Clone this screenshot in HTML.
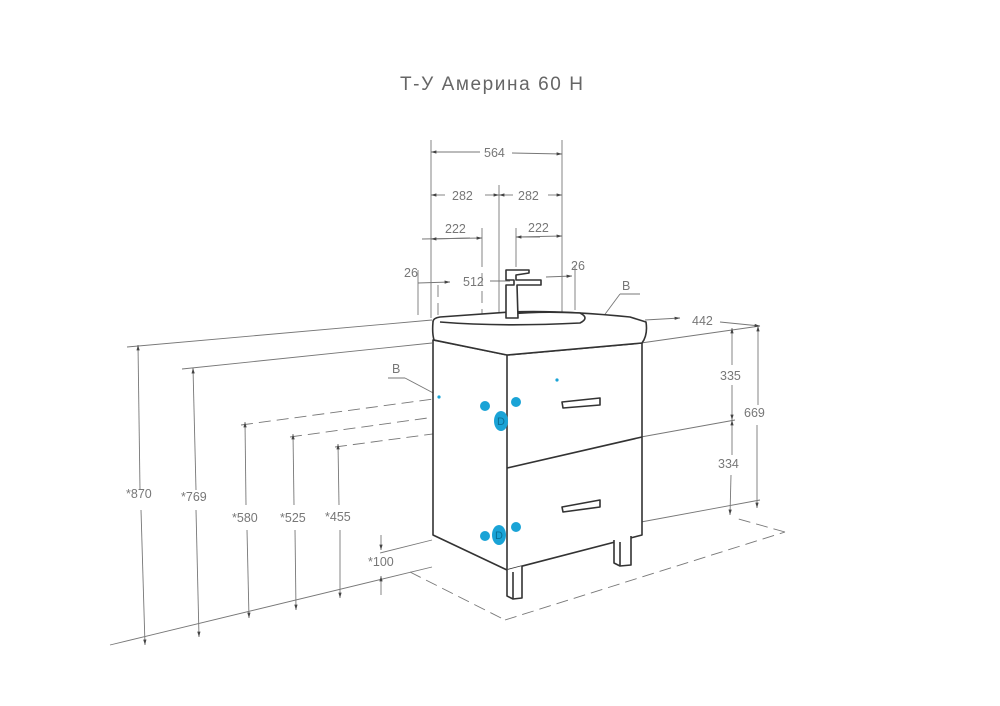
<!DOCTYPE html>
<html><head><meta charset="utf-8"><style>
html,body{margin:0;padding:0;background:#fff}
svg{display:block}
text{font-family:"Liberation Sans",sans-serif;fill:#777;font-size:12.5px}
</style></head><body>
<svg width="1000" height="706" viewBox="0 0 1000 706" xmlns="http://www.w3.org/2000/svg">
<defs>
<marker id="a" viewBox="0 0 10 10" refX="10" refY="5" markerWidth="9" markerHeight="6" orient="auto-start-reverse"><path d="M0,2 L10,5 L0,8 z" fill="#444"/></marker>
</defs>
<text x="400" y="90" style="font-size:19px;fill:#666" textLength="183">Т-У Америна 60 Н</text>

<g stroke="#777" stroke-width="0.9" fill="none">
<line x1="431" y1="140" x2="431" y2="318"/>
<line x1="562" y1="140" x2="562" y2="318"/>
<line x1="499" y1="185" x2="499" y2="318"/>
<line x1="482" y1="228" x2="482" y2="255"/>
<line x1="516" y1="228" x2="516" y2="255"/>
<line x1="418" y1="270" x2="418" y2="315"/>
<line x1="575" y1="265" x2="575" y2="310"/>
<line x1="431" y1="152" x2="480" y2="152" marker-start="url(#a)"/>
<line x1="512" y1="153" x2="562" y2="154" marker-end="url(#a)"/>
<line x1="431" y1="195" x2="445" y2="195" marker-start="url(#a)"/>
<line x1="485" y1="195" x2="499" y2="195" marker-end="url(#a)"/>
<line x1="499" y1="195" x2="513" y2="195" marker-start="url(#a)"/>
<line x1="548" y1="195" x2="562" y2="195" marker-end="url(#a)"/>
<line x1="422" y1="239" x2="482" y2="238" marker-end="url(#a)"/>
<line x1="431" y1="239" x2="470" y2="238" marker-start="url(#a)"/>
<line x1="516" y1="237" x2="562" y2="236" marker-end="url(#a)"/>
<line x1="540" y1="237" x2="516" y2="237" marker-end="url(#a)"/>
<line x1="418" y1="283" x2="450" y2="282" marker-end="url(#a)"/>
<line x1="490" y1="281" x2="510" y2="281"/>
<line x1="546" y1="277" x2="572" y2="276" marker-end="url(#a)"/>
</g>
<g stroke="#777" stroke-width="0.9" fill="none" stroke-dasharray="12,6">
<line x1="438" y1="285" x2="438" y2="530"/>
<line x1="482" y1="255" x2="482" y2="525"/>
<line x1="499" y1="318" x2="499" y2="525"/>
<line x1="516" y1="255" x2="516" y2="350"/>
<line x1="562" y1="310" x2="562" y2="535"/>
<line x1="241" y1="425" x2="500" y2="390"/>
<line x1="290" y1="437" x2="500" y2="408"/>
<line x1="335" y1="447" x2="500" y2="425"/>
<line x1="433" y1="535" x2="507" y2="525"/>
<line x1="507" y1="525" x2="641" y2="497"/>
<line x1="410" y1="572" x2="505" y2="620"/>
<line x1="505" y1="620" x2="785" y2="532"/>
<line x1="785" y1="532" x2="735" y2="518"/>
</g>
<g stroke="#777" stroke-width="0.9" fill="none">
<line x1="127" y1="347" x2="432" y2="320"/>
<line x1="182" y1="369" x2="432" y2="343"/>
<line x1="110" y1="645" x2="432" y2="567"/>
<line x1="380" y1="553" x2="432" y2="540"/>
<line x1="641" y1="343" x2="760" y2="326"/>
<line x1="641" y1="437" x2="735" y2="420"/>
<line x1="641" y1="522" x2="760" y2="500"/>
<line x1="645" y1="320" x2="680" y2="318" marker-end="url(#a)"/>
<line x1="720" y1="322" x2="760" y2="326" marker-end="url(#a)"/>
<line x1="138" y1="345" x2="140" y2="490" marker-start="url(#a)"/>
<line x1="141" y1="510" x2="145" y2="645" marker-end="url(#a)"/>
<line x1="193" y1="368" x2="196" y2="490" marker-start="url(#a)"/>
<line x1="196" y1="510" x2="199" y2="637" marker-end="url(#a)"/>
<line x1="245" y1="422" x2="246" y2="505" marker-start="url(#a)"/>
<line x1="247" y1="530" x2="249" y2="618" marker-end="url(#a)"/>
<line x1="293" y1="434" x2="294" y2="505" marker-start="url(#a)"/>
<line x1="295" y1="530" x2="296" y2="610" marker-end="url(#a)"/>
<line x1="338" y1="444" x2="339" y2="505" marker-start="url(#a)"/>
<line x1="340" y1="530" x2="340" y2="598" marker-end="url(#a)"/>
<line x1="381" y1="535" x2="381" y2="550" marker-end="url(#a)"/>
<line x1="381" y1="595" x2="381" y2="576" marker-end="url(#a)"/>
<line x1="732" y1="328" x2="732" y2="365" marker-start="url(#a)"/>
<line x1="732" y1="385" x2="732" y2="420" marker-end="url(#a)"/>
<line x1="732" y1="420" x2="732" y2="455" marker-start="url(#a)"/>
<line x1="731" y1="475" x2="730" y2="515" marker-end="url(#a)"/>
<line x1="758" y1="326" x2="758" y2="405" marker-start="url(#a)"/>
<line x1="757" y1="425" x2="757" y2="508" marker-end="url(#a)"/>
<line x1="388" y1="378" x2="405" y2="378"/><line x1="405" y1="378" x2="439" y2="396"/>
<line x1="620" y1="294" x2="640" y2="294"/><line x1="620" y1="294" x2="557" y2="379"/>
</g>

<g stroke="#333" stroke-width="1.6" fill="#fff" stroke-linejoin="round">
<path d="M433,340 L433,535 L507,570 L642,535 L642,343 L507,355 Z"/>
<line x1="507" y1="355" x2="507" y2="570"/>
<line x1="507" y1="468" x2="642" y2="437"/>
<path d="M433,322 Q432,333 434,340 L507,355 L642,343 Q648,335 646,322 L630,317 Q560,310 510,312 L440,317 Q433,318 433,322 Z"/>
<path d="M440,322 Q500,327 580,323 Q590,318 580,313 Q540,311 510,314"/>
<path d="M507,570 L507,596 L513,599 L522,598 L522,566"/>
<line x1="513" y1="572" x2="513" y2="599"/>
<path d="M614,540 L614,563 L620,566 L631,565 L631,536"/>
<line x1="620" y1="542" x2="620" y2="566"/>
<path d="M562,402 L600,398 L600,405 L563,408 Z"/>
<path d="M562,507 L600,500 L600,507 L563,512 Z"/>
<path d="M506,318 L506,285 L514,285 L514,280 L506,280 L506,270 L529,270 L529,273 L516,275 L516,280 L541,280 L541,285 L517,285 L518,318 Z"/>
</g>

<g fill="#1aa3d6">
<ellipse cx="501" cy="421" rx="7" ry="10"/><circle cx="485" cy="406" r="5"/><circle cx="516" cy="402" r="5"/>
<ellipse cx="499" cy="535" rx="7" ry="10"/><circle cx="485" cy="536" r="5"/><circle cx="516" cy="527" r="5"/>
<circle cx="439" cy="397" r="1.6"/><circle cx="557" cy="380" r="1.6"/>
</g>
<g style="font-size:11px">
<text x="497" y="425" style="fill:#0a6f96;font-size:11px">D</text>
<text x="495" y="539" style="fill:#0a6f96;font-size:11px">D</text>
</g>

<text x="484" y="157">564</text>
<text x="452" y="200">282</text>
<text x="518" y="200">282</text>
<text x="445" y="233">222</text>
<text x="528" y="232">222</text>
<text x="404" y="277">26</text>
<text x="571" y="270">26</text>
<text x="463" y="286">512</text>
<text x="622" y="290">B</text>
<text x="392" y="373">B</text>
<text x="692" y="325">442</text>
<text x="720" y="380">335</text>
<text x="744" y="417">669</text>
<text x="718" y="468">334</text>
<text x="126" y="498">*870</text>
<text x="181" y="501">*769</text>
<text x="232" y="522">*580</text>
<text x="280" y="522">*525</text>
<text x="325" y="521">*455</text>
<text x="368" y="566">*100</text>
</svg>
</body></html>
